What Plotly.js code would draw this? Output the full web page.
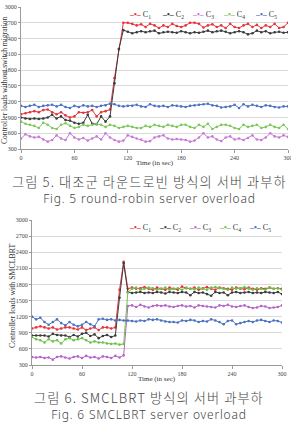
<!DOCTYPE html>
<html>
<head>
<meta charset="utf-8">
<script src="https://cdn.plot.ly/plotly-3.0.1.min.js"></script>
<style>
html,body{margin:0;padding:0;background:#fff;}
#chart{width:291px;height:422px;}
</style>
</head>
<body>
<div id="chart"></div>
<script>
// Time axis (seconds)
const time = [0,5,10,15,20,25,30,35,40,45,50,55,60,65,70,75,80,85,90,95,100,105,110,115,120,125,130,135,140,145,150,155,160,165,170,175,180,185,190,195,200,205,210,215,220,225,230,235,240,245,250,255,260,265,270,275,280,285,290,295,300];
const xTicks = [0,60,120,180,240,300];
const yTicks = [300,600,900,1200,1500,1800,2100,2400,2700,3000];
const seriesNames = ["C<sub>1</sub>","C<sub>2</sub>","C<sub>3</sub>","C<sub>4</sub>","C<sub>5</sub>"];

// Fig. 5 — round-robin (without switch migration)
const fig5_C1 = [960,980,1000,1020,1000,1040,1050,1000,960,1000,940,900,920,1000,990,1000,1040,920,1000,1020,1050,1650,2200,2700,
  2700,2680,2650,2670,2620,2680,2650,2600,2650,2620,2680,2640,2620,2650,2700,2700,2680,2610,2650,2670,2620,2650,2600,2680,2620,2600,2650,2680,2620,2660,2600,2650,2620,2680,2600,2620,2700];
const fig5_C2 = [900,880,870,880,870,880,900,950,880,920,850,840,800,780,800,950,780,770,920,820,920,1550,2200,2560,
  2530,2500,2520,2540,2520,2540,2550,2500,2520,2530,2520,2510,2540,2520,2500,2520,2510,2530,2550,2520,2540,2550,2530,2500,2520,2540,2520,2480,2500,2550,2520,2540,2500,2520,2530,2510,2520];
const fig5_C3 = [500,580,540,520,530,480,440,470,560,500,470,600,520,480,510,460,500,540,480,600,520,470,440,460,560,530,500,480,440,450,520,540,560,500,480,490,480,470,440,460,520,600,520,540,480,450,520,540,480,500,470,510,560,480,470,520,600,540,520,560,530];
const fig5_C4 = [820,780,760,740,700,800,760,700,680,760,790,740,700,720,760,740,760,780,760,720,760,740,700,720,740,720,700,700,740,720,760,740,720,760,740,720,760,760,720,700,760,720,780,680,720,760,760,740,700,680,760,720,740,760,700,720,760,720,700,760,680];
const fig5_C5 = [1120,1100,1120,1140,1100,1120,1130,1140,1110,1140,1100,1080,1120,1100,1130,1110,1120,1100,1120,1130,1160,1150,1120,1110,1120,1120,1140,1110,1100,1150,1120,1110,1120,1100,1130,1120,1110,1100,1120,1130,1140,1150,1160,1130,1120,1090,1100,1110,1140,1080,1150,1110,1140,1120,1100,1130,1120,1100,1090,1110,1110];

// Fig. 6 — SMCLBRT
const fig6_C1 = [980,1000,1020,1000,980,1000,960,980,1000,1000,980,960,1000,950,980,1000,950,1000,1000,980,1000,1700,2220,
  1720,1740,1720,1730,1750,1720,1700,1740,1720,1700,1740,1720,1700,1760,1730,1720,1740,1700,1730,1750,1720,1700,1740,1730,1720,1700,1740,1720,1710,1740,1720,1700,1730,1720,1740,1720,1730,1720];
const fig6_C2 = [850,850,850,850,830,880,860,850,850,820,860,830,880,900,840,870,800,840,860,820,850,1550,2200,
  1660,1640,1650,1660,1640,1650,1640,1660,1650,1630,1660,1650,1640,1660,1650,1600,1660,1640,1650,1620,1590,1660,1640,1650,1600,1650,1660,1640,1650,1660,1640,1650,1640,1660,1650,1640,1660,1620];
const fig6_C3 = [450,440,450,430,440,400,450,460,440,420,450,460,430,470,440,450,420,460,450,430,470,440,480,
  1400,1410,1380,1420,1390,1370,1400,1410,1400,1410,1390,1380,1400,1410,1390,1400,1370,1410,1400,1390,1380,1370,1410,1400,1420,1390,1380,1400,1410,1380,1360,1370,1400,1390,1360,1370,1380,1410];
const fig6_C4 = [820,780,760,720,780,740,760,700,780,800,760,780,800,760,720,740,720,720,700,690,700,680,690,
  1650,1720,1740,1700,1720,1740,1730,1700,1720,1740,1700,1720,1730,1700,1740,1720,1710,1740,1720,1700,1740,1750,1730,1720,1700,1740,1720,1730,1750,1720,1700,1730,1720,1700,1740,1720,1730,1700];
const fig6_C5 = [1200,1150,1180,1100,1050,1100,1150,1080,1040,1100,1050,1020,1050,1100,1060,1020,1150,1160,1140,1150,1130,1140,1130,1130,1120,1110,1130,1120,1150,1140,1150,1130,1110,1100,1100,1090,1130,1120,1140,1130,1100,1120,1110,1150,1130,1100,1060,1120,1130,1060,1080,1100,1120,1100,1130,1140,1120,1100,1130,1120,1090];

const captions = [
  ["그림 5. 대조군 라운드로빈 방식의 서버 과부하", "Fig. 5 round-robin server overload"],
  ["그림 6. SMCLBRT 방식의 서버 과부하", "Fig. 6 SMCLBRT server overload"]
];

const colors5 = ["#e8333b","#3c3c3c","#c77bd6","#7cc85a","#4a72c2"];
const colors6 = ["#e8333b","#3c3c3c","#b565c9","#6cc24a","#4a72c2"];

const fig5 = [fig5_C1,fig5_C2,fig5_C3,fig5_C4,fig5_C5];
const fig6 = [fig6_C1,fig6_C2,fig6_C3,fig6_C4,fig6_C5];

const traces = [];
fig5.forEach((ys,i)=>traces.push({x:time,y:ys,xaxis:'x',yaxis:'y',type:'scatter',mode:'lines+markers',
  name:seriesNames[i],showlegend:false,line:{color:colors5[i],width:1},marker:{color:colors5[i],size:2.6}}));
fig6.forEach((ys,i)=>traces.push({x:time,y:ys,xaxis:'x2',yaxis:'y2',type:'scatter',mode:'lines+markers',
  name:seriesNames[i],showlegend:false,line:{color:colors6[i],width:1},marker:{color:colors6[i],size:2.6}}));

const H = 422, W = 291;
const py = p => (H - p) / H;
const px = p => p / W;
const tickFont = {family:'Liberation Serif', size:6, color:'#444'};

function xa(domain, anchor){
  return {domain:domain, anchor:anchor, range:[0,300], tickvals:xTicks, ticks:'outside', ticklen:3, tickcolor:'#999',
    showline:true, linecolor:'#9a9a9a', linewidth:1, showgrid:false, zeroline:false, tickfont:tickFont, fixedrange:true,
    ticklabeloverflow:'allow'};
}
function ya(domain, anchor){
  return {domain:domain, anchor:anchor, range:[300,3000], tickvals:yTicks, ticks:'outside', ticklen:2, tickcolor:'#999',
    showline:true, linecolor:'#9a9a9a', linewidth:1, showgrid:true, gridcolor:'#dadada', gridwidth:1, zeroline:false, tickfont:tickFont, fixedrange:true};
}

const annotations = [];
const legX5 = [140,172.5,203,234,265.5];
const legX6 = [139.5,170,200,230,259.5];
function legText(color, n){
  return '<span style="color:'+color+';font-weight:bold">–•–</span> '+n;
}
seriesNames.forEach((n,i)=>{
  annotations.push({xref:'paper',yref:'paper',x:px(legX5[i]),y:py(15),xanchor:'center',yanchor:'middle',showarrow:false,
    text:legText(colors5[i],n), font:{family:'Liberation Serif',size:8,color:'#333'}});
  annotations.push({xref:'paper',yref:'paper',x:px(legX6[i]),y:py(228),xanchor:'center',yanchor:'middle',showarrow:false,
    text:legText(colors6[i],n), font:{family:'Liberation Serif',size:8,color:'#333'}});
});
// axis titles
annotations.push({xref:'paper',yref:'paper',x:px(155),y:py(163),xanchor:'center',yanchor:'middle',showarrow:false,
  text:'Time (in sec)',font:{family:'Liberation Serif',size:7,color:'#333'}});
annotations.push({xref:'paper',yref:'paper',x:px(157),y:py(379),xanchor:'center',yanchor:'middle',showarrow:false,
  text:'Time (in sec)',font:{family:'Liberation Serif',size:7,color:'#333'}});
annotations.push({xref:'paper',yref:'paper',x:px(5),y:py(80),xanchor:'center',yanchor:'middle',textangle:-90,showarrow:false,
  text:'Controller loads without switch migration',font:{family:'Liberation Serif',size:7.6,color:'#333'}});
annotations.push({xref:'paper',yref:'paper',x:px(12),y:py(296),xanchor:'center',yanchor:'middle',textangle:-90,showarrow:false,
  text:'Controller loads with SMCLBRT',font:{family:'Liberation Serif',size:7.8,color:'#333'}});
// captions (two lines in one annotation)
function capText(pair){
  return '<span style="font-family:\'Noto Sans CJK KR\';font-size:13.2px;letter-spacing:1.1px">'+pair[0]+'</span><br>'+
         '<span style="letter-spacing:0.8px">'+pair[1]+'</span>';
}
const capFont = {family:'Noto Sans', size:12, color:'#444', weight:300};
annotations.push({xref:'paper',yref:'paper',x:px(149.5),y:py(189.5),xanchor:'center',yanchor:'middle',showarrow:false,borderpad:0,
  align:'center', text:capText(captions[0]), font:capFont});
annotations.push({xref:'paper',yref:'paper',x:px(149),y:py(405),xanchor:'center',yanchor:'middle',showarrow:false,borderpad:0,
  align:'center', text:capText(captions[1]), font:capFont});

const layout = {
  width:W, height:H, margin:{l:0,r:0,t:0,b:0}, paper_bgcolor:'#fff', plot_bgcolor:'#fff', showlegend:false,
  xaxis: xa([px(21),px(288)],'y'),
  yaxis: ya([py(149),py(7)],'x'),
  xaxis2: xa([px(32),px(282)],'y2'),
  yaxis2: ya([py(365),py(220)],'x2'),
  annotations: annotations
};
Plotly.newPlot('chart', traces, layout, {staticPlot:true, displayModeBar:false});
</script>
</body>
</html>
